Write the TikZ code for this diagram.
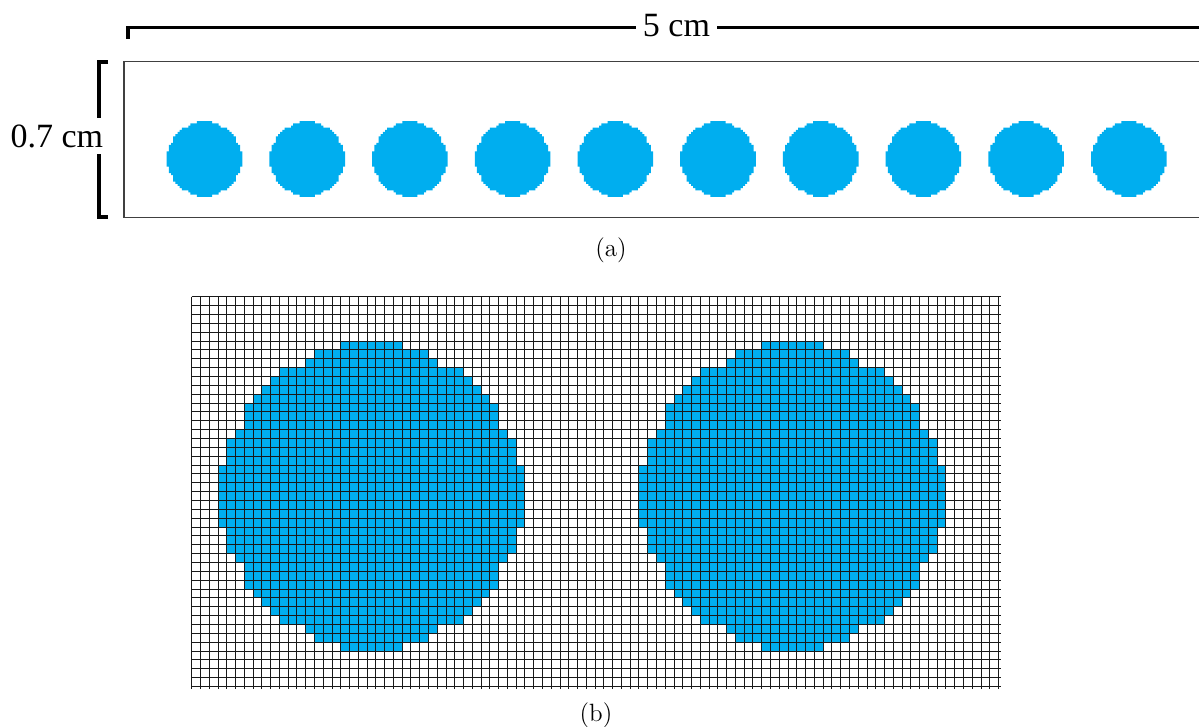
\documentclass[tikz,border=0pt]{standalone}
\usepackage{fontspec}
\newfontfamily\dimfont{Liberation Serif}
\usetikzlibrary{positioning}
\definecolor{particle}{RGB}{0,174,239}
\definecolor{frame}{RGB}{64,64,64}

\begin{document}
\begin{tikzpicture}[
    x=0.5pt, y=-0.5pt,
    box/.style={draw=frame, line width=0.8pt},
    dimline/.style={line width=1.7pt},
    dimlabel/.style={fill=white, font=\dimfont\fontsize{17}{20}\selectfont},
    caption/.style={font=\fontsize{12.5}{14}\selectfont},
    gridline/.style={draw=black!90, line width=0.5pt},
    pixdisc/.pic={
      \fill[particle] \foreach \k [count=\r from 0] in
        {3,6,7,10,11,12,13,14,14,14,15,16,16,16,17,17,17,17,17,17,17,
         16,16,16,15,14,14,14,13,12,11,10,7,6,3}
        {(-\k-0.5,\r-17.5) rectangle (\k+0.5,\r-16.5)};
    }
  ]
  \path[use as bounding box] (0,0) rectangle (1199,727);
  \clip (0,0) rectangle (1199,727);

  % (a) channel with ten particles
  \draw[box] (124,61.5) rectangle (1240,217.5);
  \foreach \i in {0,...,9}
    \pic[scale=2.16] at (204.5+102.7*\i,159) {pixdisc};

  % length
  \draw[dimline] (128,39) -- (128,27.5) -- (1225,27.5) -- (1225,39);
  \node[dimlabel] (lenlbl) at (676.5,26) {5 cm};
  % width
  \draw[dimline] (108,62) -- (99,62) -- (99,217) -- (108,217);
  \node[dimlabel, anchor=east, inner xsep=0pt] (widlbl) at (103.5,136) {0.7 cm};

  \node[caption] (capa) at (611,250) {(a)};

  % (b) two particles on the mesh
  \begin{scope}[shift={(191.7,296.7)}, x=4.385pt, y=-4.43pt]
    \pic at (20.5,22.5) {pixdisc};
    \pic at (68.5,22.5) {pixdisc};
    \foreach \c in {0,...,92}
      \draw[gridline] (\c,0) -- (\c,44.3);
    \foreach \r in {0,...,44}
      \draw[gridline] (0,\r) -- (92.3,\r);
  \end{scope}

  \node[caption] (capb) at (596,715) {(b)};
\end{tikzpicture}
\end{document}
